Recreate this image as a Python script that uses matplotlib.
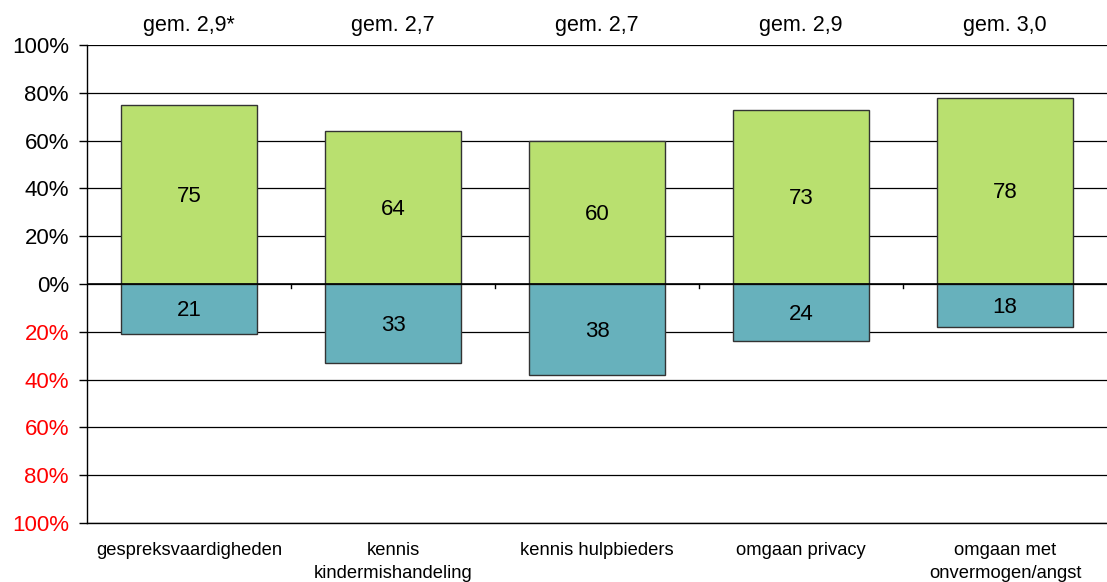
import numpy as np
import matplotlib.pyplot as plt

plt.rcParams["font.family"] = ["Liberation Sans", "DejaVu Sans"]

categories = ["gespreksvaardigheden", "kennis\nkindermishandeling", "kennis hulpbieders",
              "omgaan privacy", "omgaan met\nonvermogen/angst"]
positief = [75, 64, 60, 73, 78]
negatief = [21, 33, 38, 24, 18]
gemiddelde = ["gem. 2,9*", "gem. 2,7", "gem. 2,7", "gem. 2,9", "gem. 3,0"]
yticks = [100, 80, 60, 40, 20, 0, -20, -40, -60, -80, -100]

fig = plt.figure(figsize=(11.07, 5.82), dpi=100)
ax = fig.add_axes([0.0786, 0.1014, 0.9214, 0.8213])

x = np.arange(len(categories))
ax.bar(x, positief, width=0.67, color="#b9e06f", edgecolor="#333333", linewidth=1, zorder=3)
ax.bar(x, [-v for v in negatief], width=0.67, color="#67b1bc", edgecolor="#333333", linewidth=1, zorder=3)

for xi, p, n in zip(x, positief, negatief):
    ax.text(xi, p / 2 - 0.8, str(p), ha="center", va="center", fontsize=16, zorder=4)
    ax.text(xi, -n / 2 - 0.8, str(n), ha="center", va="center", fontsize=16, zorder=4)

for xi, g in zip(x, gemiddelde):
    ax.text(xi, 106, g, ha="center", va="baseline", fontsize=15.5)

ax.set_xlim(-0.5, len(categories) - 0.5)
ax.set_ylim(-100, 100)
ax.set_yticks(yticks)
ax.set_yticklabels([f"{abs(t)}%" for t in yticks], fontsize=16)
for t, lab in zip(yticks, ax.get_yticklabels()):
    lab.set_color("red" if t < 0 else "black")
ax.tick_params(axis="y", length=6, width=1, pad=7)

for t in yticks:
    ax.axhline(t, color="black", linewidth=0.9, zorder=1)
ax.axhline(0, color="black", linewidth=1.2, zorder=4)

# small tick marks on the zero line between categories
for b in x[:-1] + 0.5:
    ax.plot([b, b], [0, -1.8], color="black", linewidth=1, zorder=4)

ax.set_xticks(x)
ax.set_xticklabels(categories, fontsize=13.2, linespacing=1.4)
ax.tick_params(axis="x", length=0, pad=14)

for s in ["top", "right"]:
    ax.spines[s].set_visible(False)
ax.spines["left"].set_linewidth(1)
ax.spines["bottom"].set_linewidth(1)

fig.savefig("out.png", dpi=100)
